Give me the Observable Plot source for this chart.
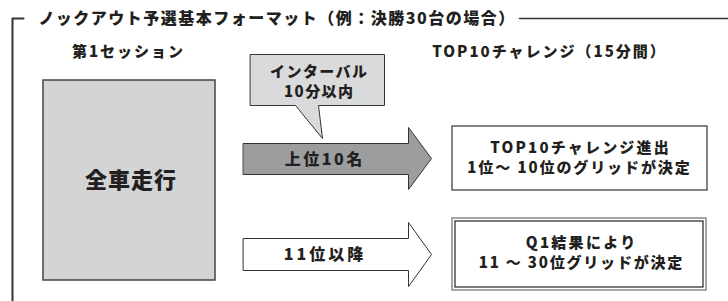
<!DOCTYPE html>
<html><head><meta charset="utf-8">
<script src="https://cdn.jsdelivr.net/npm/d3@7"></script>
<script src="https://cdn.jsdelivr.net/npm/@observablehq/plot@0.6"></script>
<style>
html,body{margin:0;padding:0;background:#fff;}
</style>
</head><body>
<div id="chart"></div>
<script>
// ---- content ----
const titleText = "ノックアウト予選基本フォーマット（例：決勝30台の場合）";
const sectionLabels = ["第1セッション", "TOP10チャレンジ（15分間）"];
const mainLabel = "全車走行";
const calloutLines = ["インターバル", "10分以内"];
const arrowLabels = ["上位10名", "11位以降"];
const resultLines1 = ["TOP10チャレンジ進出", "1位～ 10位のグリッドが決定"];
const resultLines2 = ["Q1結果により", "11 ～ 30位グリッドが決定"];

// ---- geometry (diagram coordinates) ----
const framePts = [[519,18],[728,18]];
const frameLeft = [[23,18],[12,18],[12,301]];
const sessionBox = {x1:43, x2:215, y1:80, y2:280};
const calloutPts = [[250,54],[384,54],[384,105],[318,105],[322,138],[295,105],[250,105]];
const arrow1Pts = [[243,143],[408,143],[408,127],[431,158],[408,189],[408,174],[243,174]];
const arrow2Pts = [[243,238],[408,238],[408,222],[431,254],[408,286],[408,270],[243,270]];
const resultBox1 = {x1:452, x2:707, y1:126, y2:190};
const resultBox2o = {x1:452, x2:706, y1:218, y2:290};
const resultBox2i = {x1:455, x2:703, y1:221, y2:287};

const ink = "#231f20";
const pts = a => a.map(([x,y]) => ({x,y}));

const texts = [
  {t:sectionLabels[0], x:127, y:52, s:15, ls:2},
  {t:sectionLabels[1], x:548, y:52, s:15, ls:2},
  {t:mainLabel, x:130, y:180, s:22, ls:1},
  {t:calloutLines[0], x:318, y:72, s:15, ls:1.4},
  {t:calloutLines[1], x:318, y:92, s:15, ls:1.4},
  {t:arrowLabels[0], x:323, y:159, s:16, ls:2.5},
  {t:arrowLabels[1], x:323, y:254, s:16, ls:3},
  {t:resultLines1[0], x:579, y:148, s:15, ls:2.2},
  {t:resultLines1[1], x:578, y:168, s:15, ls:1.9},
  {t:resultLines2[0], x:580, y:243, s:15, ls:2.3},
  {t:resultLines2[1], x:580, y:263, s:15, ls:1.8}
].map(d => ({...d, x: d.x + d.ls / 2}));
const titles = [{t:titleText, x:38, y:18, s:16, ls:1.5}];

const chart = Plot.plot({
  width: 728, height: 301, margin: 0,
  style: {fontFamily: "'Noto Sans CJK JP', sans-serif", background: "#fff", overflow: "visible"},
  x: {domain: [0, 728], range: [0, 728], axis: null},
  y: {domain: [0, 301], range: [0, 301], axis: null},
  marks: [
    Plot.line(pts(framePts), {x:"x", y:"y", stroke:"#333", strokeWidth:1.6}),
    Plot.line(pts(frameLeft), {x:"x", y:"y", stroke:"#333", strokeWidth:2}),
    Plot.rect([sessionBox], {x1:"x1", x2:"x2", y1:"y1", y2:"y2", fill:"#d3d4d6", stroke:"#444", strokeWidth:1.5}),
    Plot.line(pts(calloutPts), {x:"x", y:"y", curve:"linear-closed", fill:"#d9dadc", stroke:"#333", strokeWidth:1}),
    Plot.line(pts(arrow1Pts), {x:"x", y:"y", curve:"linear-closed", fill:"#9c9d9f", stroke:"#333", strokeWidth:1}),
    Plot.line(pts(arrow2Pts), {x:"x", y:"y", curve:"linear-closed", fill:"#fff", stroke:"#333", strokeWidth:1}),
    Plot.rect([resultBox1], {x1:"x1", x2:"x2", y1:"y1", y2:"y2", fill:"#fff", stroke:"#333", strokeWidth:1.2}),
    Plot.rect([resultBox2o], {x1:"x1", x2:"x2", y1:"y1", y2:"y2", fill:"#fff", stroke:"#888", strokeWidth:1.5}),
    Plot.rect([resultBox2i], {x1:"x1", x2:"x2", y1:"y1", y2:"y2", fill:"none", stroke:"#222", strokeWidth:1.2}),
    Plot.text(texts, {x:"x", y:"y", text:"t", fontSize:"s", textAnchor:"middle", fill:ink, fontWeight:900, lineAnchor:"middle"}),
    Plot.text(titles, {x:"x", y:"y", text:"t", fontSize:"s", textAnchor:"start", fill:ink, fontWeight:900, lineAnchor:"middle"})
  ]
});
// apply letter spacing per label (looked up by its text)
const spacing = new Map([...texts, ...titles].map(d => [d.t, d.ls]));
d3.select(chart).selectAll("text").each(function() {
  const ls = spacing.get(this.textContent);
  if (ls != null) this.setAttribute("letter-spacing", ls);
});
document.getElementById("chart").appendChild(chart);
</script>
</body></html>
